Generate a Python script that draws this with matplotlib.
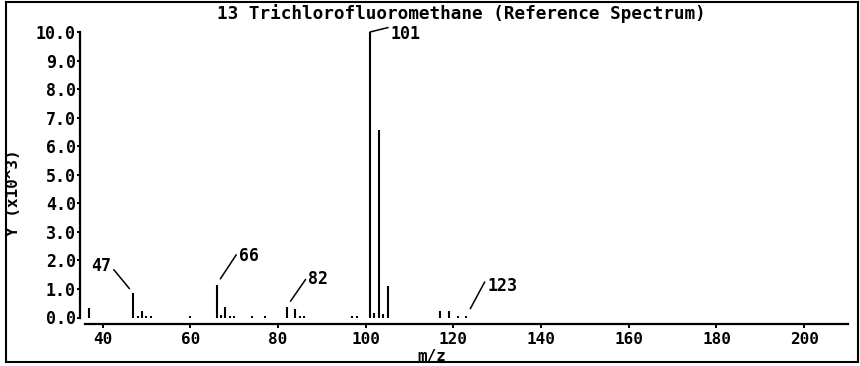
import matplotlib
matplotlib.use("Agg")
import matplotlib.pyplot as plt
from matplotlib.patches import Rectangle

# m/z and abundance (x10^3)
mz = [37, 47, 48, 49, 50, 51, 60, 66, 67, 68, 69, 70, 74, 77,
      82, 84, 85, 86, 97, 98, 101, 102, 103, 104, 105, 117, 119, 121, 123]
abundance = [0.35, 0.85, 0.06, 0.22, 0.06, 0.06, 0.06, 1.15, 0.08, 0.38, 0.06, 0.06, 0.06, 0.06,
             0.38, 0.30, 0.06, 0.06, 0.06, 0.06, 10.0, 0.15, 6.55, 0.12, 1.12, 0.22, 0.22, 0.07, 0.06]
labeled = [47, 66, 82, 101, 123]

title = "13 Trichlorofluoromethane (Reference Spectrum)"
W, H = 860, 366

plt.rcParams['font.family'] = ['DejaVu Sans Mono']
plt.rcParams['font.weight'] = 'bold'

fig = plt.figure(figsize=(W / 100, H / 100), dpi=100)
ax = fig.add_axes([85 / W, 48.5 / H, 763 / W, 285.5 / H])

ax.vlines(mz, 0, abundance, color='black', lw=1.5)

ax.set_xlim(36, 210)
ax.set_ylim(0, 10)
ax.set_xticks(range(40, 201, 20))
ax.set_yticks(range(0, 11))
ax.set_yticklabels([f"{v:.1f}" for v in range(0, 11)])

for s in ['top', 'right']:
    ax.spines[s].set_visible(False)
ax.spines['left'].set_position(('outward', 3.6))
ax.spines['bottom'].set_position(('outward', 5))
ax.spines['left'].set_linewidth(1.6)
ax.spines['bottom'].set_linewidth(1.6)
ax.tick_params(axis='y', length=2.5, width=1.4, pad=0.5, labelsize=12)
ax.tick_params(axis='x', length=3, width=1.4, pad=2.5, labelsize=11.5)

# peak labels with leader lines (offsets in points)
offsets = {47: (-16, 19.4, 'right', (1, 0.5), 4.3),
           66: (16.2, 20.7, 'left', (0, 0.8), 5),
           82: (15.6, 19.9, 'left', (0, 0.7), 4.8),
           101: (15, -1.5, 'left', (0, 0.9), 0),
           123: (15.1, 21.6, 'left', (0, 1.0), 5.8)}
for m, a in zip(mz, abundance):
    if m not in labeled:
        continue
    dx, dy, ha, rp, sh = offsets[m]
    ax.annotate(str(m), xy=(m, a), xytext=(dx, dy), textcoords='offset points',
                ha=ha, va='center', fontsize=12, annotation_clip=False,
                arrowprops=dict(arrowstyle='-', color='black', lw=1.1,
                                relpos=rp, shrinkA=0, shrinkB=sh))

fig.text(461 / W, 1 - 14 / H, title, ha='center', va='center', fontsize=12.7)
fig.text(432 / W, 1 - 356 / H, "m/z", ha='center', va='center', fontsize=11.5)
fig.text(14 / W, 1 - 193 / H, "Y (x10^3)", ha='center', va='center',
         rotation=90, fontsize=11.5)

fig.add_artist(Rectangle((6 / W, 4 / H), 852 / W, 360 / H, transform=fig.transFigure,
                         fill=False, edgecolor='black', lw=1.5))

fig.savefig("out.png", dpi=100)
